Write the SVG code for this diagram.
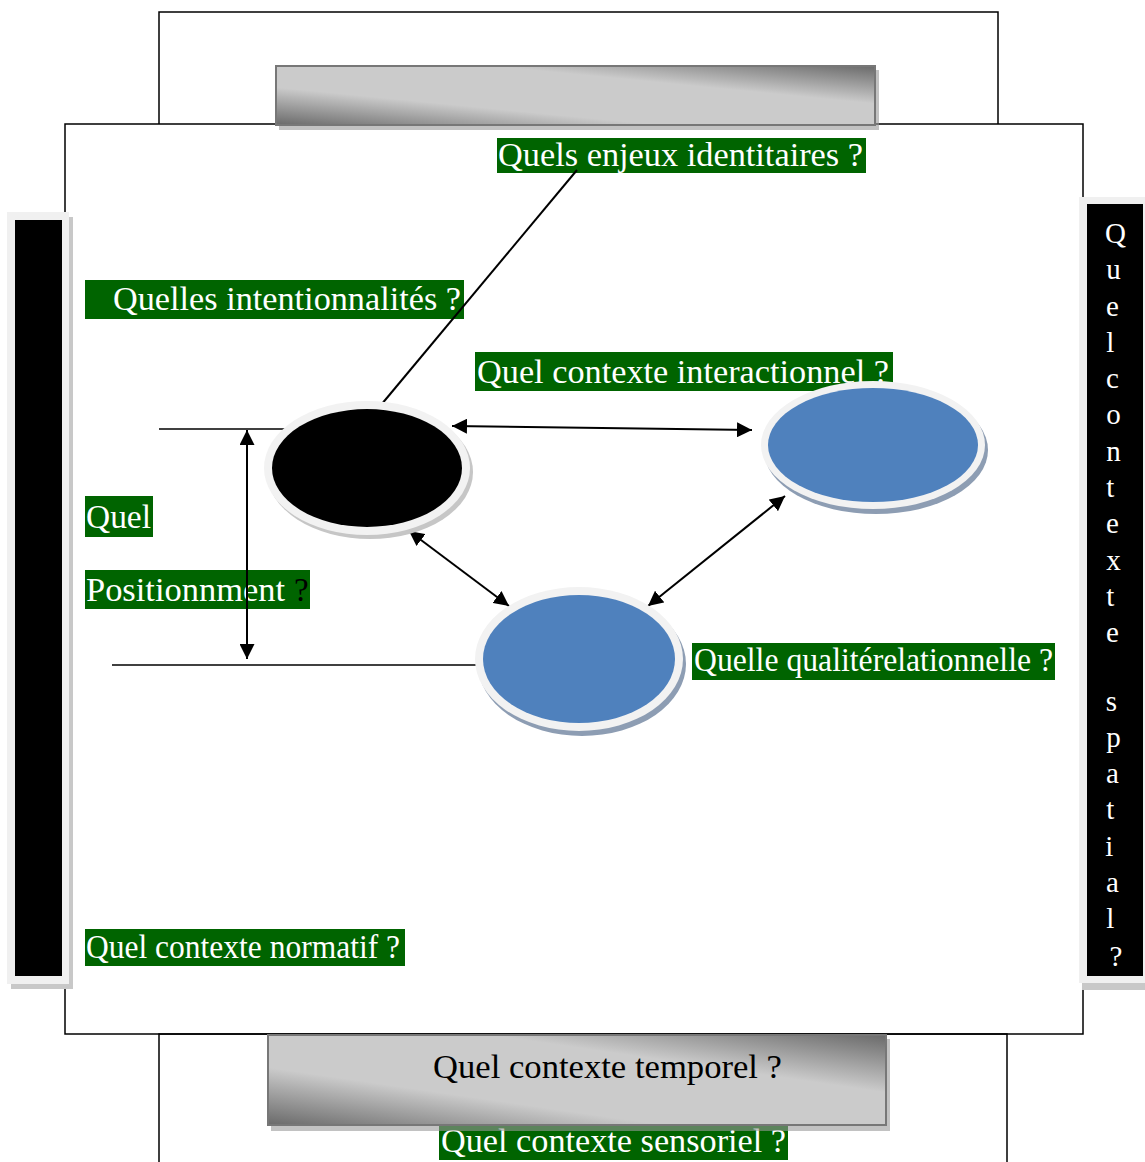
<svg xmlns="http://www.w3.org/2000/svg" width="1145" height="1162" viewBox="0 0 1145 1162">
  <style>
    .frame { fill: none; stroke: #000; stroke-width: 1.5; }
    .tag { fill: #006400; }
    .lbl { font-family: "Liberation Serif", "Times New Roman", serif; font-size: 33px; fill: #fff; }
    .dark { fill: #000; }
    .bar { stroke: #777; stroke-width: 2; }
    .barshadow { fill: #9a9a9a; opacity: 0.6; }
    .ring { fill: #f2f2f2; }
    .link { stroke: #000; stroke-width: 2; fill: none; }
    .thin { stroke: #000; stroke-width: 1.5; fill: none; }
    .vert { font-family: "Liberation Serif", "Times New Roman", serif; font-size: 29px; fill: #fff; text-anchor: middle; }
  </style>
  <defs>
    <linearGradient id="metal" x1="0" y1="1" x2="1" y2="0">
      <stop offset="0" stop-color="#6a6a6a"/>
      <stop offset="0.32" stop-color="#cbcbcb"/>
      <stop offset="0.68" stop-color="#cbcbcb"/>
      <stop offset="1" stop-color="#6a6a6a"/>
    </linearGradient>
    <marker id="head" viewBox="0 0 15 15" refX="15" refY="7.5" markerWidth="15" markerHeight="15" markerUnits="userSpaceOnUse" orient="auto-start-reverse">
      <path d="M0,0 L15,7.5 L0,15 z" fill="#000"/>
    </marker>
  </defs>

  <rect width="1145" height="1162" fill="#fff"/>

  <!-- nested frames -->
  <g id="frames">
    <polyline class="frame" points="159,124 159,12 998,12 998,124"/>
    <rect class="frame" x="65" y="124" width="1018" height="910"/>
    <polyline class="frame" points="159,1162 159,1034 1007,1034 1007,1162"/>
  </g>

  <!-- top metallic bar -->
  <g id="top-bar">
    <rect class="barshadow" x="279" y="70" width="600" height="60"/>
    <rect class="bar" x="276" y="66" width="599" height="59" fill="url(#metal)"/>
  </g>

  <!-- left black bar -->
  <g id="left-bar">
    <rect x="11" y="217" width="62" height="772" fill="#c8c8c8"/>
    <rect x="7" y="212" width="62" height="772" fill="#f0f0f0"/>
    <rect x="15" y="220" width="47" height="756" fill="#000"/>
  </g>

  <!-- right black bar with vertical text -->
  <g id="right-bar">
    <rect x="1082" y="203" width="63" height="787" fill="#c8c8c8"/>
    <rect x="1079" y="197" width="66" height="786" fill="#f0f0f0"/>
    <rect x="1087" y="204" width="56" height="772" fill="#000"/>
    <text class="vert">
      <tspan x="1119" y="243">Q</tspan>
      <tspan x="1117" y="279">u</tspan>
      <tspan x="1116" y="316">e</tspan>
      <tspan x="1114" y="352">l</tspan>
      <tspan x="1116" y="388">c</tspan>
      <tspan x="1117" y="424">o</tspan>
      <tspan x="1117" y="461">n</tspan>
      <tspan x="1114" y="497">t</tspan>
      <tspan x="1116" y="533">e</tspan>
      <tspan x="1117" y="570">x</tspan>
      <tspan x="1114" y="606">t</tspan>
      <tspan x="1116" y="642">e</tspan>
      <tspan x="1115" y="711">s</tspan>
      <tspan x="1117" y="747">p</tspan>
      <tspan x="1116" y="783">a</tspan>
      <tspan x="1114" y="819">t</tspan>
      <tspan x="1113" y="856">i</tspan>
      <tspan x="1116" y="892">a</tspan>
      <tspan x="1114" y="928">l</tspan>
      <tspan x="1116" y="966">?</tspan>
    </text>
  </g>

  <!-- question labels -->
  <g id="label-identitaires">
    <rect class="tag" x="497" y="138" width="369" height="35"/>
    <text class="lbl" x="498" y="166" textLength="365" lengthAdjust="spacingAndGlyphs">Quels enjeux identitaires ?</text>
  </g>
  <g id="label-intentionnalites">
    <rect class="tag" x="85" y="280" width="379" height="39"/>
    <text class="lbl" x="113" y="310" textLength="348" lengthAdjust="spacingAndGlyphs">Quelles intentionnalités ?</text>
  </g>
  <g id="label-interactionnel">
    <rect class="tag" x="475" y="352" width="418" height="39"/>
    <text class="lbl" x="477" y="383" textLength="412" lengthAdjust="spacingAndGlyphs">Quel contexte interactionnel ?</text>
  </g>
  <g id="label-quel">
    <rect class="tag" x="85" y="496" width="68" height="41"/>
    <text class="lbl" x="86" y="528" textLength="65" lengthAdjust="spacingAndGlyphs">Quel</text>
  </g>
  <g id="label-positionnement">
    <rect class="tag" x="85" y="570" width="225" height="39"/>
    <text class="lbl" x="86" y="601" textLength="199" lengthAdjust="spacingAndGlyphs">Positionnment</text>
    <text class="lbl dark" x="294" y="601">?</text>
  </g>
  <g id="label-relationnelle">
    <rect class="tag" x="692" y="643" width="363" height="37"/>
    <text class="lbl" x="694" y="671" textLength="359" lengthAdjust="spacingAndGlyphs">Quelle qualitérelationnelle ?</text>
  </g>
  <g id="label-normatif">
    <rect class="tag" x="85" y="929" width="320" height="37"/>
    <text class="lbl" x="86" y="958" textLength="314" lengthAdjust="spacingAndGlyphs">Quel contexte normatif ?</text>
  </g>
  <g id="label-sensoriel">
    <rect class="tag" x="439" y="1126" width="349" height="34"/>
    <text class="lbl" x="441" y="1152" textLength="345" lengthAdjust="spacingAndGlyphs">Quel contexte sensoriel ?</text>
  </g>

  <!-- bottom metallic bar -->
  <g id="bottom-bar">
    <rect class="barshadow" x="271" y="1039" width="619" height="92"/>
    <rect class="bar" x="268" y="1035" width="618" height="90" fill="url(#metal)"/>
    <text class="lbl dark" x="433" y="1078" textLength="349" lengthAdjust="spacingAndGlyphs">Quel contexte temporel ?</text>
  </g>

  <!-- connectors -->
  <g id="connectors">
    <line class="link" x1="577" y1="170" x2="381" y2="405"/>
    <line class="thin" x1="159" y1="429" x2="300" y2="429"/>
    <line class="thin" x1="112" y1="665" x2="478" y2="665"/>
    <line class="link" x1="452" y1="426" x2="752" y2="430" marker-start="url(#head)" marker-end="url(#head)"/>
    <line class="link" x1="409" y1="531" x2="509" y2="606" marker-start="url(#head)" marker-end="url(#head)"/>
    <line class="link" x1="785" y1="496" x2="648" y2="606" marker-start="url(#head)" marker-end="url(#head)"/>
    <line class="link" x1="247" y1="430" x2="247" y2="659" marker-start="url(#head)" marker-end="url(#head)"/>
  </g>

  <!-- actors -->
  <g id="node-self">
    <ellipse cx="370" cy="472" rx="103" ry="67" fill="#c6c6c6"/>
    <ellipse class="ring" cx="367" cy="468" rx="103" ry="67"/>
    <ellipse cx="367" cy="468" rx="95" ry="59" fill="#000"/>
  </g>
  <g id="node-other">
    <ellipse cx="876" cy="450" rx="112" ry="64" fill="#8d9db3"/>
    <ellipse class="ring" cx="873" cy="445" rx="112" ry="64"/>
    <ellipse cx="873" cy="445" rx="105" ry="57" fill="#4f81bd"/>
  </g>
  <g id="node-third">
    <ellipse cx="582" cy="664" rx="104" ry="72" fill="#8d9db3"/>
    <ellipse class="ring" cx="579" cy="659" rx="104" ry="72"/>
    <ellipse cx="579" cy="659" rx="96" ry="64" fill="#4f81bd"/>
  </g>
</svg>
